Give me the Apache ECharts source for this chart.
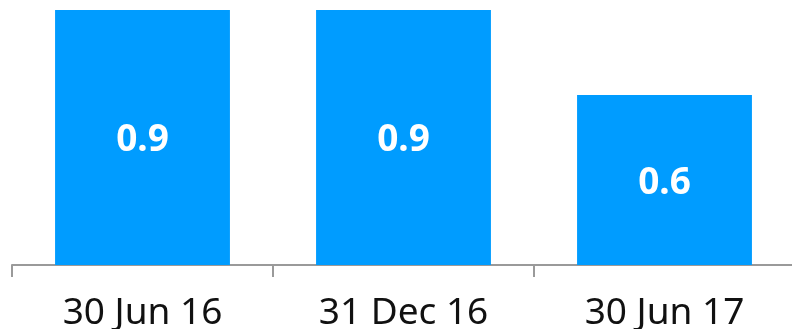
<!DOCTYPE html>
<html>
<head>
<meta charset="utf-8">
<script src="https://cdn.jsdelivr.net/npm/echarts@6/dist/echarts.min.js"></script>
<style>
  html, body { margin: 0; padding: 0; background: #fff; }
  #chart { width: 792px; height: 329px; }
</style>
</head>
<body>
<div id="chart"></div>
<script>
// Period-end dates and the reported values
const categories = ['30 Jun 16', '31 Dec 16', '30 Jun 17'];
const values = [0.9, 0.9, 0.6];

const chart = echarts.init(document.getElementById('chart'), null, { renderer: 'canvas' });

chart.setOption({
  animation: false,
  grid: { left: 12, width: 783, top: 10, bottom: 64, outerBoundsMode: 'none', containLabel: false },
  xAxis: {
    type: 'category',
    data: categories,
    axisLine: { lineStyle: { color: '#9a9a9a', width: 2 } },
    axisTick: { show: true, length: 12, lineStyle: { color: '#9a9a9a', width: 2 } },
    axisLabel: {
      color: '#111',
      fontSize: 37,
      fontFamily: 'Noto Sans',
      margin: 30
    }
  },
  yAxis: {
    type: 'value',
    min: 0,
    max: 0.9,
    show: false,
    splitLine: { show: false }
  },
  series: [{
    type: 'bar',
    data: values,
    barCategoryGap: '33%',
    itemStyle: { color: '#009cff' },
    label: {
      show: true,
      position: 'inside',
      offset: [0, 3],
      color: '#fff',
      fontSize: 37,
      fontWeight: 'bold',
      fontFamily: 'Noto Sans',
      formatter: p => p.value.toFixed(1)
    }
  }]
});
</script>
</body>
</html>
